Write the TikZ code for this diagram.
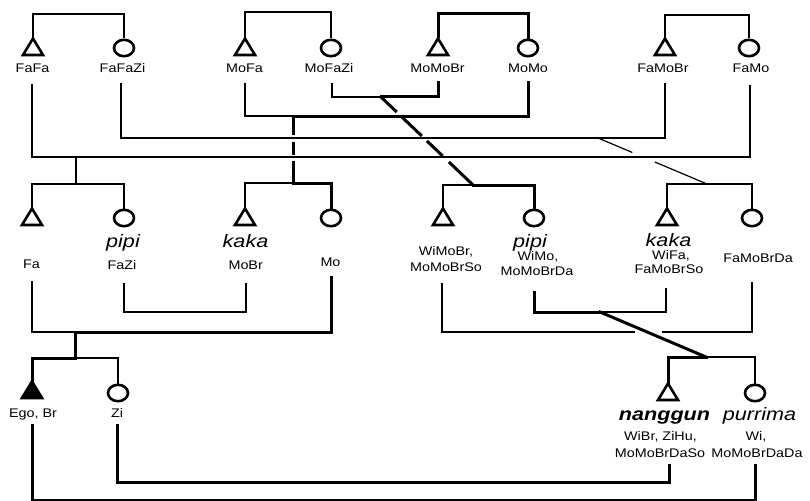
\documentclass[tikz,border=0pt]{standalone}
\usepackage{fontspec}
\setmainfont{Liberation Sans}[FakeStretch=1.15]
\newfontfamily\kinfont{Liberation Sans}[FakeStretch=1.2]
\usetikzlibrary{calc}
\tikzset{
  thn/.style={line width=1.2pt},
  thk/.style={line width=3pt, line cap=rect},
  sym/.style={line width=2.6pt, line join=miter},
  lab/.style={font=\fontsize{12.5}{14}\selectfont, inner sep=0pt, anchor=base},
  kin/.style={font=\kinfont\fontsize{18}{20}\selectfont\itshape, inner sep=0pt, anchor=base},
  kinb/.style={font=\kinfont\fontsize{18}{20}\selectfont\bfseries\itshape, inner sep=0pt, anchor=base},
}
\newcommand\Male[4][]{%
  \draw[sym,#1] (#3,#4+1.5) -- (#3+10,#4+18) -- (#3-10,#4+18) -- cycle;
  \coordinate (#2) at (#3,#4);}
\newcommand\Fem[3]{%
  \draw[sym] (#2,#3) ellipse [x radius=10, y radius=8.2];
  \coordinate (#1) at (#2,#3-9.5);}
\begin{document}
\begin{tikzpicture}[x=1pt,y=-1pt]
\useasboundingbox (0,0) rectangle (810,500);
\clip (0,0) rectangle (810,500);

% ---------- generation 1 ----------
\Male{FaFa}{33}{37}
\Fem{FaFaZi}{124}{48}
\Male{MoFa}{245}{37}
\Fem{MoFaZi}{331}{48}
\Male{MoMoBr}{438}{37}
\Fem{MoMo}{528}{48}
\Male{FaMoBr}{665}{37}
\Fem{FaMo}{749}{48}

\node[lab] (tFaFa) at (32.5,73) {FaFa};
\node[lab] (tFaFaZi) at (122.5,73) {FaFaZi};
\node[lab] (tMoFa) at (244.5,73) {MoFa};
\node[lab] (tMoFaZi) at (329,73) {MoFaZi};
\node[lab] (tMoMoBr) at (437.5,73) {MoMoBr};
\node[lab] (tMoMo) at (528,73) {MoMo};
\node[lab] (tFaMoBr) at (663,73) {FaMoBr};
\node[lab] (tFaMo) at (751,73) {FaMo};

\draw[thn] (FaFa) -- ++(0,-23) -| (FaFaZi);
\draw[thn] (MoFa) -- ++(0,-25) -| (MoFaZi);
\draw[thk] (MoMoBr) -- ++(0,-23) -| (MoMo);
\draw[thn] (FaMoBr) -- ++(0,-22) -| (FaMo);

\coordinate (FaFa-b) at (32,84);
\coordinate (FaFaZi-b) at (121,83);
\coordinate (MoFa-b) at (245,83);
\coordinate (MoFaZi-b) at (332,83);
\coordinate (MoMoBr-b) at (438,83);
\coordinate (MoMo-b) at (528,83);
\coordinate (FaMoBr-b) at (665,83);
\coordinate (FaMo-b) at (750,85);

\coordinate (m1) at (76,157);
\coordinate (m2) at (598,138);
\coordinate (m3) at (293,116);
\coordinate (m4) at (381,97);
\coordinate (c1) at (76,184);
\coordinate (c2) at (707,184);
\coordinate (c3) at (293,183);
\coordinate (c4) at (473,185);

% ---------- generation 2 ----------
\Male{Fa}{32}{207}
\Fem{FaZi}{124}{218}
\Male{MoBr}{245}{207}
\Fem{Mo}{331}{218}
\Male{WiMoBr}{443}{207}
\Fem{WiMo}{534}{218}
\Male{WiFa}{667}{207}
\Fem{FaMoBrDa}{752}{218}

\node[lab] (tFa) at (31.5,268) {Fa};
\node[kin] (tpipi1) at (123,247) {pipi};
\node[lab] (tFaZi) at (122,269) {FaZi};
\node[kin] (tkaka1) at (245.5,247) {kaka};
\node[lab] (tMoBr) at (245.7,269) {MoBr};
\node[lab] (tMo) at (330.5,266) {Mo};
\node[lab] (tWiMoBr) at (446,255) {WiMoBr,};
\node[lab] (tMoMoBrSo) at (446,271) {MoMoBrSo};
\node[kin] (tpipi2) at (530,247) {pipi};
\node[lab] (tWiMo) at (538,260) {WiMo,};
\node[lab] (tMoMoBrDa) at (537,275) {MoMoBrDa};
\node[kin] (tkaka2) at (668.5,246) {kaka};
\node[lab] (tWiFa) at (671,259) {WiFa,};
\node[lab] (tFaMoBrSo) at (669,273) {FaMoBrSo};
\node[lab] (tFaMoBrDa) at (758,262) {FaMoBrDa};

% marriages of generation 1
\draw[thn] (FaFa-b) |- (m1) -| (FaMo-b);
\draw[thn] (m1) -- (c1);
\draw[thn] (FaFaZi-b) |- (m2) -| (FaMoBr-b);
\draw[thn] (m2) -- ($(m2)!0.315!(c2)$) ($(m2)!0.522!(c2)$) -- (c2);
\draw[thn] (MoFa-b) |- (m3);
\draw[thk] (m3) -| (MoMo-b);
\draw[thk] (m3) -- ($(m3)!0.254!(c3)$) ($(m3)!0.403!(c3)$) -- ($(m3)!0.56!(c3)$) ($(m3)!0.701!(c3)$) -- (c3);
\draw[thn] (MoFaZi-b) |- (m4);
\draw[thk] (m4) -| (MoMoBr-b);
\draw[thk] (m4) -- ($(m4)!0.159!(c4)$) ($(m4)!0.239!(c4)$) -- ($(m4)!0.432!(c4)$)
  ($(m4)!0.511!(c4)$) -- ($(m4)!0.659!(c4)$) ($(m4)!0.75!(c4)$) -- (c4);

% sibling lines of generation 2
\draw[thn] (Fa) |- (c1) -| (FaZi);
\draw[thn] (MoBr) |- (c3);
\draw[thk] (c3) -| (Mo);
\draw[thn] (WiMoBr) |- (c4);
\draw[thk] (c4) -| (WiMo);
\draw[thn] (WiFa) |- (c2) -| (FaMoBrDa);

\coordinate (Fa-b) at (32,281);
\coordinate (FaZi-b) at (124,283);
\coordinate (MoBr-b) at (246,283);
\coordinate (Mo-b) at (331,277);
\coordinate (WiMoBr-b) at (442,283);
\coordinate (WiMo-b) at (534,292);
\coordinate (WiFa-b) at (666,288);
\coordinate (FaMoBrDa-b) at (752,282);

\coordinate (m5) at (75,332);
\coordinate (c5) at (75,358);
\coordinate (m6) at (185,312);
\coordinate (g1) at (635,332);
\coordinate (g2) at (662,332);
\coordinate (m7) at (600,312);
\coordinate (c7) at (706,357);

% ---------- generation 3 ----------
\Male[fill=black]{Ego}{32}{380}
\Fem{Zi}{118}{393}
\Male{nanggun}{668}{382}
\Fem{purrima}{755}{393}

\node[lab] (tEgo) at (33,417) {Ego, Br};
\node[lab] (tZi) at (117,417) {Zi};
\node[kinb] (tnanggun) at (664.5,420) {nanggun};
\node[lab] (tWiBr) at (660.5,440) {WiBr, ZiHu,};
\node[lab] (tMoMoBrDaSo) at (660,457) {MoMoBrDaSo};
\node[kin] (tpurrima) at (759.5,420) {purrima};
\node[lab] (tWi) at (756,440) {Wi,};
\node[lab] (tMoMoBrDaDa) at (757,457) {MoMoBrDaDa};

% marriages of generation 2
\draw[thn] (Fa-b) |- (m5);
\draw[thk] (m5) -| (Mo-b);
\draw[thk] (m5) -- (c5);
\draw[thk] (c5) -| (Ego);
\draw[thn] (c5) -| (Zi);
\draw[thn] (FaZi-b) |- (m6) -| (MoBr-b);
\draw[thn] (WiMoBr-b) |- (g1);
\draw[thn] (g2) -| (FaMoBrDa-b);
\draw[thk] (WiMo-b) |- (m7);
\draw[thn] (m7) -| (WiFa-b);
\draw[thk] (m7) -- (c7);
\draw[thk] (c7) -| (nanggun);
\draw[thn] (c7) -| (purrima);

\coordinate (Ego-b) at (32,425);
\coordinate (Zi-b) at (117,425);
\coordinate (nanggun-b) at (669,465);
\coordinate (purrima-b) at (755,465);
\coordinate (m8) at (400,482);
\coordinate (m9) at (400,500.2);

% marriages of generation 3
\draw[thk] (Zi-b) |- (m8) -| (nanggun-b);
\draw[thk] (Ego-b) |- (m9) -| (purrima-b);
\end{tikzpicture}
\end{document}
